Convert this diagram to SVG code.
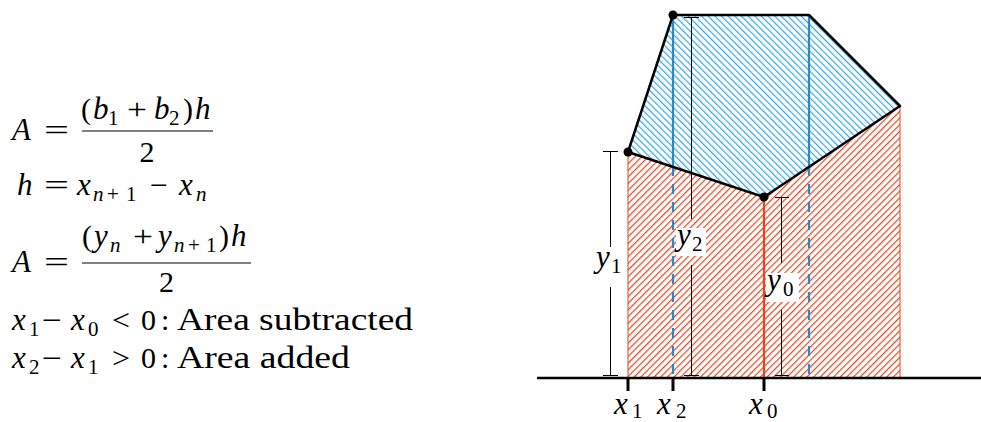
<svg xmlns="http://www.w3.org/2000/svg" width="981" height="422" viewBox="0 0 981 422">
<style>
.mi{font-family:"Liberation Serif",serif;font-style:italic;font-size:31px;fill:#000}
.mr{font-family:"Liberation Serif",serif;font-size:30px;fill:#000}
.si{font-family:"Liberation Serif",serif;font-style:italic;font-size:21px;fill:#000}
.sr{font-family:"Liberation Serif",serif;font-size:21px;fill:#000}
.tx{font-family:"Liberation Serif",serif;font-size:31px;fill:#000}
.dim{stroke:#000;stroke-width:1;fill:none}
.bar{stroke:#000;stroke-width:1.2}
.blue{stroke:#2b87c8;stroke-width:2.2;fill:none}
.redl{stroke:#e8431c;stroke-width:1;fill:none}
.bg{fill:#fff}
</style>
<defs>
<pattern id="hatchRed" patternUnits="userSpaceOnUse" width="4.7" height="10" patternTransform="rotate(45)">
<line x1="0.6" y1="-1" x2="0.6" y2="11" stroke="#e8431c" stroke-width="1.2"/>
</pattern>
<pattern id="hatchBlue" patternUnits="userSpaceOnUse" width="4.7" height="10" patternTransform="rotate(-45)">
<line x1="0.6" y1="-1" x2="0.6" y2="11" stroke="#2fa8ea" stroke-width="1.2"/>
</pattern>
</defs>

<g id="formulas">
<g id="eq1">
<text class="mi" x="12" y="140">A</text>
<text class="mr" x="44" y="140" textLength="25" lengthAdjust="spacingAndGlyphs">=</text>
<text class="mr" x="81" y="119">(</text>
<text class="mi" x="93" y="119">b</text>
<text class="sr" x="108" y="125">1</text>
<text class="mr" x="127" y="119" textLength="20" lengthAdjust="spacingAndGlyphs">+</text>
<text class="mi" x="154" y="119">b</text>
<text class="sr" x="169" y="125">2</text>
<text class="mr" x="183" y="119">)</text>
<text class="mi" x="195" y="119">h</text>
<line class="bar" x1="82" y1="131" x2="213" y2="131"/>
<text class="mr" x="147" y="162" text-anchor="middle">2</text>
</g>
<g id="eq2">
<text class="mi" x="17" y="195">h</text>
<text class="mr" x="44" y="195" textLength="25" lengthAdjust="spacingAndGlyphs">=</text>
<text class="mi" x="77" y="195">x</text>
<text class="si" x="93" y="201">n</text>
<text class="sr" x="107" y="201">+</text>
<text class="sr" x="126" y="201">1</text>
<text class="mr" x="150" y="195" textLength="18" lengthAdjust="spacingAndGlyphs">−</text>
<text class="mi" x="179" y="195">x</text>
<text class="si" x="196" y="201">n</text>
</g>
<g id="eq3">
<text class="mi" x="12" y="272">A</text>
<text class="mr" x="44" y="272" textLength="25" lengthAdjust="spacingAndGlyphs">=</text>
<text class="mr" x="82" y="246">(</text>
<text class="mi" x="94" y="246">y</text>
<text class="si" x="110" y="252">n</text>
<text class="mr" x="133" y="246" textLength="20" lengthAdjust="spacingAndGlyphs">+</text>
<text class="mi" x="158" y="246">y</text>
<text class="si" x="174" y="252">n</text>
<text class="sr" x="188" y="252">+</text>
<text class="sr" x="206" y="252">1</text>
<text class="mr" x="219" y="246">)</text>
<text class="mi" x="231" y="246">h</text>
<line class="bar" x1="82" y1="263" x2="251" y2="263"/>
<text class="mr" x="166.5" y="292" text-anchor="middle">2</text>
</g>
<g id="eq4">
<text class="mi" x="12" y="330">x</text>
<text class="sr" x="29" y="336">1</text>
<text class="mr" x="42" y="330" textLength="20" lengthAdjust="spacingAndGlyphs">−</text>
<text class="mi" x="71" y="330">x</text>
<text class="sr" x="88" y="336">0</text>
<text class="mr" x="112" y="330" textLength="18" lengthAdjust="spacingAndGlyphs">&lt;</text>
<text class="mr" x="141" y="330">0</text>
<text class="mr" x="161" y="330">:</text>
<text class="tx" x="177" y="330" textLength="236" lengthAdjust="spacingAndGlyphs">Area subtracted</text>
</g>
<g id="eq5">
<text class="mi" x="12" y="368">x</text>
<text class="sr" x="29" y="374">2</text>
<text class="mr" x="42" y="368" textLength="20" lengthAdjust="spacingAndGlyphs">−</text>
<text class="mi" x="71" y="368">x</text>
<text class="sr" x="88" y="374">1</text>
<text class="mr" x="112" y="368" textLength="18" lengthAdjust="spacingAndGlyphs">&gt;</text>
<text class="mr" x="141" y="368">0</text>
<text class="mr" x="161" y="368">:</text>
<text class="tx" x="177" y="368" textLength="173" lengthAdjust="spacingAndGlyphs">Area added</text>
</g>
</g>

<g id="regions">
<polygon id="red-area" points="628,152 764,197 900,106 900,378 628,378" fill="url(#hatchRed)"/>
<polygon id="blue-area" points="673,15 809,15 900,106 764,197 628,152" fill="url(#hatchBlue)"/>
</g>

<g id="guides">
<line class="redl" x1="628" y1="152" x2="628" y2="378"/>
<line class="redl" x1="900" y1="106" x2="900" y2="378"/>
<line x1="764" y1="197" x2="764" y2="378" stroke="#e8431c" stroke-width="2.2"/>
<line class="blue" x1="673" y1="15" x2="673" y2="166"/>
<line class="blue" x1="673" y1="166" x2="673" y2="378" stroke-dasharray="10 8"/>
<line class="blue" x1="809" y1="15" x2="809" y2="166"/>
<line class="blue" x1="809" y1="166" x2="809" y2="378" stroke-dasharray="10 8"/>
</g>

<g id="connectors">
<g id="dim-y1">
<path class="dim" d="M603,151.5 H618 M610.5,151.5 V247 M610.5,287 V375.5 M603,375.5 H618"/>
<text class="mi" x="596" y="267">y</text>
<text class="sr" x="611" y="273">1</text>
</g>
<g id="dim-y2">
<path class="dim" d="M684,17.5 H699 M691.5,17.5 V219 M691.5,265 V375.5 M684,375.5 H699"/>
<rect class="bg" x="676" y="228" width="30" height="28"/>
<text class="mi" x="677" y="245">y</text>
<text class="sr" x="692" y="251">2</text>
</g>
<g id="dim-y0">
<path class="dim" d="M775,197.5 H789 M781.5,197.5 V263 M781.5,310 V375.5 M775,375.5 H789"/>
<rect class="bg" x="766" y="273" width="33" height="29"/>
<text class="mi" x="767" y="290">y</text>
<text class="sr" x="783" y="296">0</text>
</g>
</g>

<g id="polygon">
<polygon points="628,152 673,15 809,15 900,106 764,197" fill="none" stroke="#000" stroke-width="2.5" stroke-linejoin="round"/>
<circle id="p1" cx="628" cy="152" r="4.5" fill="#000"/>
<circle id="p2" cx="673" cy="15" r="4.5" fill="#000"/>
<circle id="p0" cx="764" cy="197" r="4.5" fill="#000"/>
</g>

<g id="axis">
<line x1="537" y1="378" x2="981" y2="378" stroke="#000" stroke-width="2.6"/>
<line x1="628" y1="378" x2="628" y2="391" stroke="#000" stroke-width="3"/>
<line x1="673" y1="378" x2="673" y2="391" stroke="#000" stroke-width="3"/>
<line x1="764" y1="378" x2="764" y2="391" stroke="#000" stroke-width="3"/>
</g>

<g id="tick-labels">
<text class="mi" x="614" y="414">x</text>
<text class="sr" x="632" y="418">1</text>
<text class="mi" x="657" y="414">x</text>
<text class="sr" x="676" y="418">2</text>
<text class="mi" x="749" y="414">x</text>
<text class="sr" x="767" y="418">0</text>
</g>
</svg>
